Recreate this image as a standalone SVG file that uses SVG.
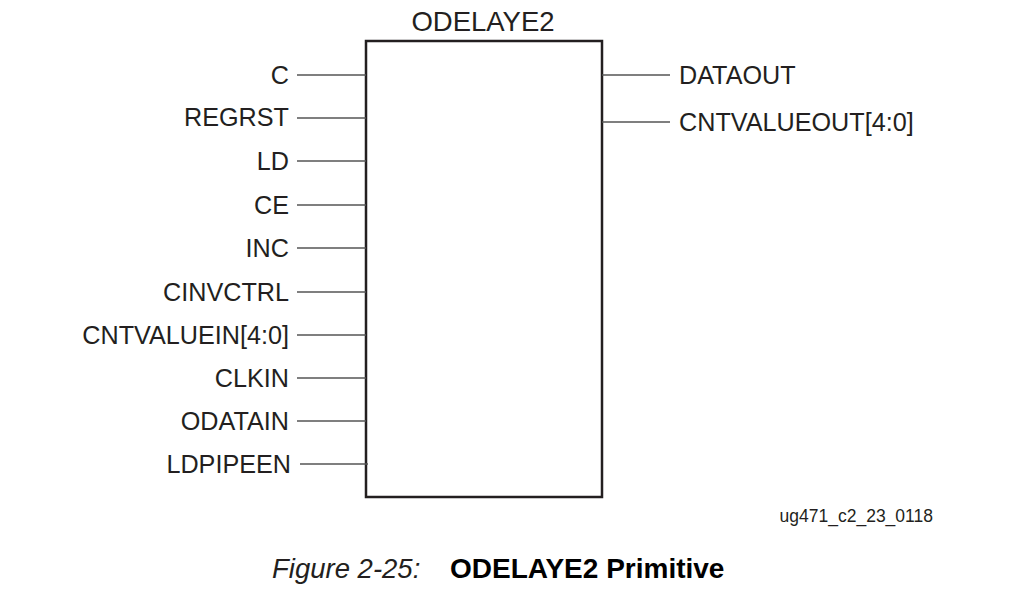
<svg xmlns="http://www.w3.org/2000/svg" width="1011" height="589" viewBox="0 0 1011 589">
<style>
.lbl{font-family:"Liberation Sans",Arial,sans-serif;font-size:25.2px;fill:#231f20}
.in{text-anchor:end}
.pin{stroke:#555;stroke-width:1.6;fill:none}
</style>
<rect width="1011" height="589" fill="#fff"/>
<g id="odelaye2">
<rect x="366" y="41" width="236" height="456" fill="#fff" stroke="#231f20" stroke-width="2.5"/>
<text class="lbl" x="483" y="31" text-anchor="middle" style="font-size:27.5px">ODELAYE2</text>
</g>
<g id="connectors">
<line class="pin" x1="297" y1="75" x2="366" y2="75"/>
<line class="pin" x1="297" y1="118" x2="366" y2="118"/>
<line class="pin" x1="297" y1="161" x2="366" y2="161"/>
<line class="pin" x1="297" y1="205" x2="366" y2="205"/>
<line class="pin" x1="297" y1="248" x2="366" y2="248"/>
<line class="pin" x1="297" y1="292" x2="366" y2="292"/>
<line class="pin" x1="297" y1="335" x2="366" y2="335"/>
<line class="pin" x1="297" y1="378" x2="366" y2="378"/>
<line class="pin" x1="297" y1="421" x2="366" y2="421"/>
<line class="pin" x1="300" y1="464" x2="368" y2="464"/>
<line class="pin" x1="602" y1="75" x2="670" y2="75"/>
<line class="pin" x1="602" y1="122" x2="670" y2="122"/>
</g>
<g id="pin-labels">
<text class="lbl in" x="289" y="84">C</text>
<text class="lbl in" x="289" y="126">REGRST</text>
<text class="lbl in" x="289" y="170">LD</text>
<text class="lbl in" x="289" y="214">CE</text>
<text class="lbl in" x="289" y="257">INC</text>
<text class="lbl in" x="289" y="301">CINVCTRL</text>
<text class="lbl in" x="289" y="344">CNTVALUEIN[4:0]</text>
<text class="lbl in" x="289" y="387">CLKIN</text>
<text class="lbl in" x="289" y="430">ODATAIN</text>
<text class="lbl in" x="291" y="473">LDPIPEEN</text>
<text class="lbl" x="679" y="84">DATAOUT</text>
<text class="lbl" x="679" y="131">CNTVALUEOUT[4:0]</text>
</g>
<text class="lbl" x="933" y="522" text-anchor="end" style="font-size:17.5px">ug471_c2_23_0118</text>
<text class="lbl" x="272" y="578" style="font-size:27.5px;font-style:italic">Figure 2-25:</text>
<text class="lbl" x="450" y="578" style="font-size:28px;font-weight:bold;fill:#000">ODELAYE2 Primitive</text>
</svg>
